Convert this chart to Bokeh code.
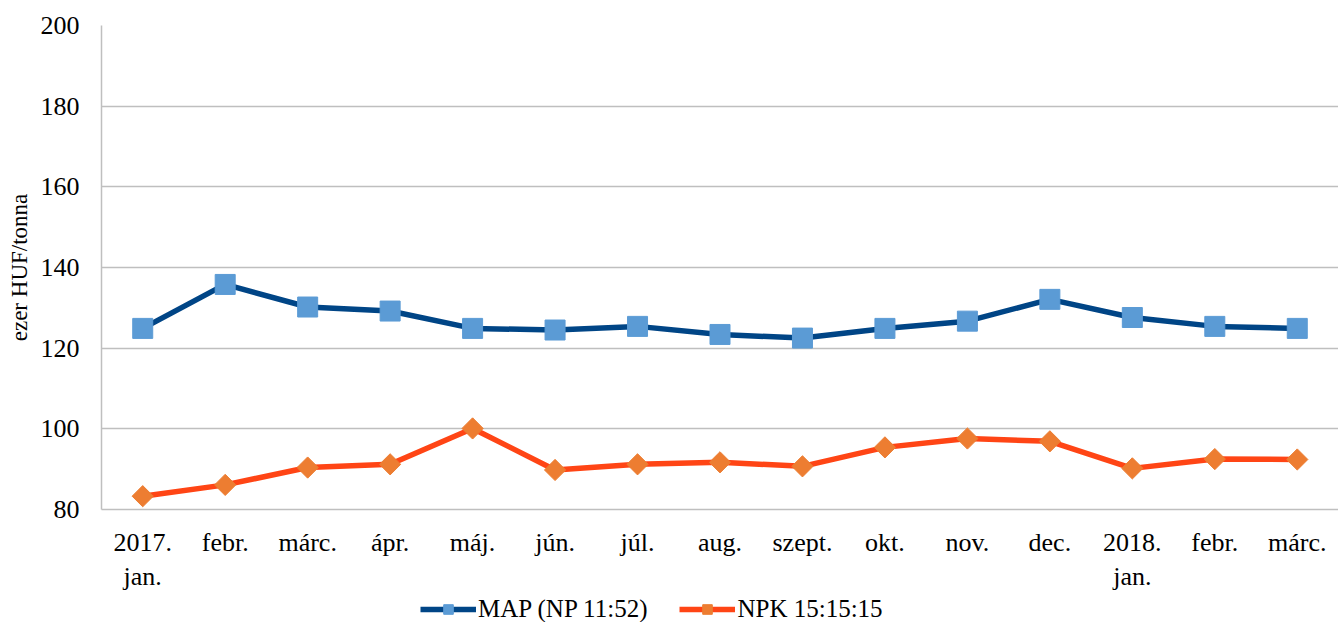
import numpy as np
from bokeh.plotting import figure
from bokeh.layouts import column
from bokeh.models import FixedTicker, Range1d, Legend, LegendItem
from bokeh.embed import file_html
from bokeh.resources import INLINE

labels = ["2017.\njan.", "febr.", "márc.", "ápr.", "máj.", "jún.", "júl.", "aug.",
          "szept.", "okt.", "nov.", "dec.", "2018.\njan.", "febr.", "márc."]
map_vals = [124.9, 135.8, 130.2, 129.2, 124.9, 124.5, 125.4, 123.4, 122.5, 124.9,
            126.7, 132.1, 127.6, 125.4, 124.9]
npk_vals = [83.3, 86.1, 90.4, 91.2, 100.1, 89.8, 91.2, 91.7, 90.7, 95.4,
            97.6, 96.9, 90.2, 92.5, 92.4]
y_ticks = [80, 100, 120, 140, 160, 180, 200]
series_names = ["MAP (NP 11:52)", "NPK 15:15:15"]

FONT = "Liberation Serif"
MAP_LINE, MAP_MARK = "#004586", "#5B9BD5"
NPK_LINE, NPK_MARK = "#FF4515", "#ED7D31"
x = list(range(len(labels)))

p = figure(frame_width=1237, frame_height=484, output_backend="svg", toolbar_location=None,
           x_range=Range1d(-0.5, len(labels) - 0.5), y_range=Range1d(80, 200),
           min_border_left=101, min_border_top=25, min_border_right=0, min_border_bottom=83)
p.outline_line_color = None
p.background_fill_color = "white"
p.border_fill_color = "white"

p.xgrid.grid_line_color = None
p.ygrid.grid_line_color = "#BFBFBF"
p.ygrid.grid_line_width = 1.5
p.ygrid.ticker = FixedTicker(ticks=y_ticks)

p.yaxis.ticker = FixedTicker(ticks=y_ticks)
p.xaxis.ticker = FixedTicker(ticks=x)
p.xaxis.major_label_overrides = {i: l for i, l in enumerate(labels)}
for ax in (p.xaxis[0], p.yaxis[0]):
    ax.axis_line_color = "#BFBFBF"
    ax.axis_line_width = 1.5
    ax.major_tick_line_color = None
    ax.minor_tick_line_color = None
    ax.major_label_text_font = FONT
    ax.major_label_text_font_size = "26px"
    ax.major_label_text_color = "black"
p.xaxis.major_label_standoff = 12
p.yaxis.major_label_standoff = 16
p.yaxis.axis_label = "ezer HUF/tonna"
p.yaxis.axis_label_text_font = FONT
p.yaxis.axis_label_text_font_style = "normal"
p.yaxis.axis_label_text_font_size = "23px"
p.yaxis.axis_label_text_color = "black"
p.yaxis.axis_label_standoff = 6

p.line(x, map_vals, line_color=MAP_LINE, line_width=5.5)
p.scatter(x, map_vals, marker="square", size=20, fill_color=MAP_MARK, line_color=MAP_MARK)
p.line(x, npk_vals, line_color=NPK_LINE, line_width=5.5)
p.scatter(x, npk_vals, marker="square", angle=np.pi / 4, size=15,
          fill_color=NPK_MARK, line_color=NPK_MARK)

# legend strip below the chart (series renderers kept out of its visible range)
q = figure(width=1338, height=30, output_backend="svg", toolbar_location=None,
           x_axis_location=None, y_axis_location=None,
           x_range=Range1d(1000, 1001), y_range=Range1d(1000, 1001), min_border=0)
q.outline_line_color = None
q.xgrid.grid_line_color = None
q.ygrid.grid_line_color = None
r1 = q.line(x, map_vals, line_color=MAP_LINE, line_width=5.5)
s1 = q.scatter(x, map_vals, marker="square", size=20, fill_color=MAP_MARK, line_color=MAP_MARK)
r2 = q.line(x, npk_vals, line_color=NPK_LINE, line_width=5.5)
s2 = q.scatter(x, npk_vals, marker="square", angle=np.pi / 4, size=15,
               fill_color=NPK_MARK, line_color=NPK_MARK)

legend = Legend(items=[LegendItem(label=series_names[0], renderers=[r1, s1]),
                       LegendItem(label=series_names[1], renderers=[r2, s2])],
                orientation="horizontal", location=(319, 1),
                label_text_font=FONT, label_text_font_size="25px",
                label_text_color="black",
                label_height=24, glyph_width=56, glyph_height=24, spacing=32,
                border_line_color=None, background_fill_alpha=0,
                margin=0, padding=0, label_standoff=2)
q.add_layout(legend, "center")

layout = column(p, q, spacing=0)
open("out.html", "w").write(file_html(layout, INLINE))
